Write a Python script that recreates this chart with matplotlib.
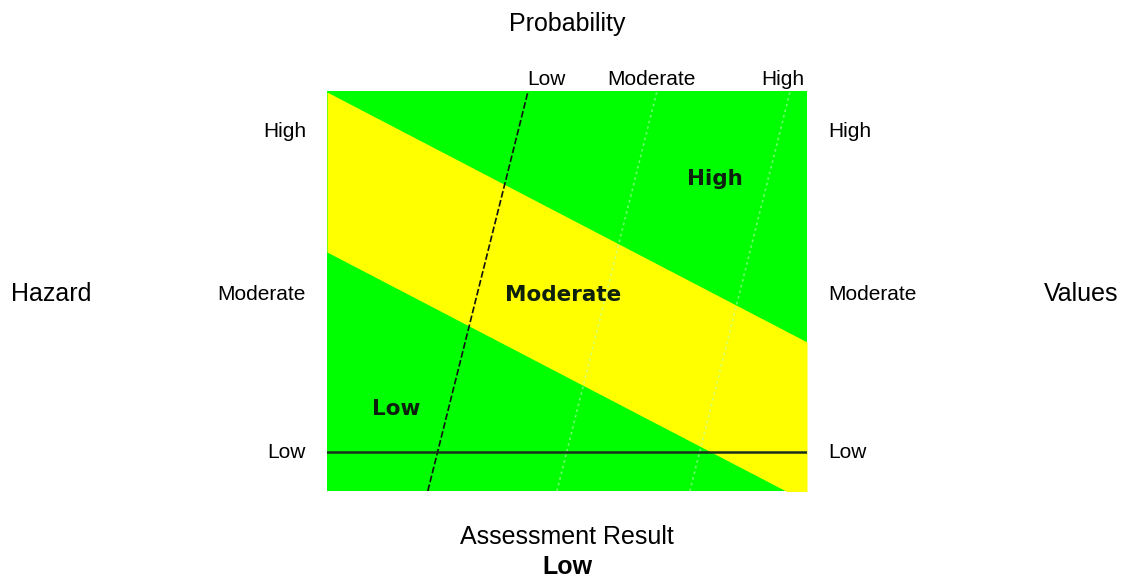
import numpy as np
import matplotlib
matplotlib.use('Agg')
from matplotlib import pyplot as plt

plt.rcParams['font.family'] = ['Liberation Sans', 'DejaVu Sans']

# square runs 0..1 on both axes (x = probability direction, y = hazard)
levels = ['Low', 'Moderate', 'High']
hazard_y = [0.0975, 0.4925, 0.8975]          # hazard / values level positions
prob_bottom = [0.21, 0.479, 0.756]           # probability lines at y=0
prob_top = [0.419, 0.6875, 0.965]            # probability lines at y=1
prob_label_x = [0.458, 0.675, 0.95]

band_upper = [0.9975, 0.3725]   # yellow band upper edge at x=0, x=1
band_lower = [0.5975, -0.0275]  # yellow band lower edge at x=0, x=1

zone_names = ['Low', 'Moderate', 'High']
zone_x = [0.144, 0.492, 0.808]
zone_y = [0.205, 0.49, 0.78]

selected_hazard = 'Low'
selected_prob = 'Low'
result = 'Low'

fig = plt.figure(figsize=(11.26, 5.8), dpi=100)
ax = fig.add_axes([327 / 1126, 89 / 580, 480 / 1126, 400 / 580])
ax.set_xlim(0, 1)
ax.set_ylim(0, 1)
ax.axis('off')

# background and yellow band
ax.add_patch(plt.Rectangle((0, 0), 1, 1, color='#00ff00', zorder=0))
xs = np.array([0.0, 1.0])
ax.fill_between(xs, band_lower, band_upper, color='#ffff00', lw=0, zorder=1)

# probability lines
for lvl, b, t in zip(levels, prob_bottom, prob_top):
    if lvl == selected_prob:
        ax.plot([b, t], [0, 1], color='#111111', lw=1.2, ls=(0, (4, 1.5)), zorder=3)
    else:
        ax.plot([b, t], [0, 1], color='#b8ffb8', lw=1.2, ls=(0, (1.5, 2)), alpha=0.6, zorder=2)

# selected hazard line
hy = hazard_y[levels.index(selected_hazard)]
ax.plot([0, 1], [hy, hy], color='#1c2e1c', lw=1.8, zorder=3)

# zone labels
for name, zx, zy in zip(zone_names, zone_x, zone_y):
    ax.text(zx, zy, name, family='DejaVu Sans', fontweight='bold', fontsize=15.5,
            color='#0d1f0d', ha='center', va='center', zorder=4)

# level labels around the square
for lvl, y in zip(levels, hazard_y):
    ax.text(-0.044, y, lvl, fontsize=15, ha='right', va='center', clip_on=False)
    ax.text(1.044, y, lvl, fontsize=15, ha='left', va='center', clip_on=False)
for lvl, x in zip(levels, prob_label_x):
    ax.text(x, 1.0275, lvl, fontsize=15, ha='center', va='center', clip_on=False)

ax.text(-0.574, 0.4925, 'Hazard', fontsize=18, ha='center', va='center', clip_on=False)
ax.text(1.571, 0.4925, 'Values', fontsize=18, ha='center', va='center', clip_on=False)
ax.text(0.5, 1.1675, 'Probability', fontsize=18, ha='center', va='center', clip_on=False)
ax.text(0.5, -0.115, 'Assessment Result', fontsize=18, ha='center', va='center', clip_on=False)
ax.text(0.5, -0.19, result, fontsize=18, fontweight='bold', ha='center', va='center', clip_on=False)

fig.savefig('out.png', dpi=100)
